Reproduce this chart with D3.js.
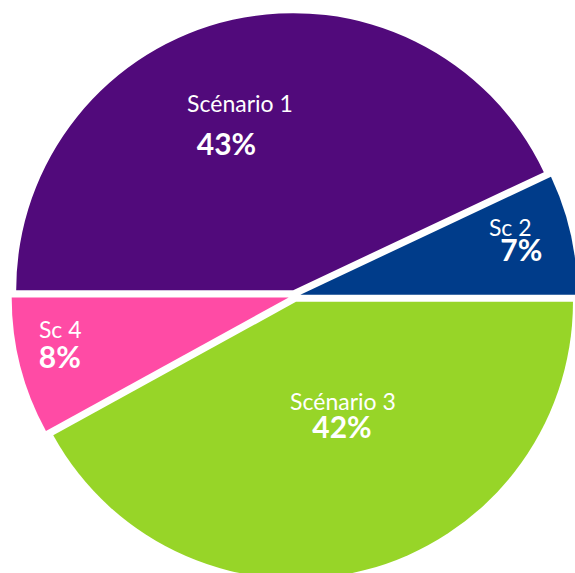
<!DOCTYPE html>
<html>
<head>
<meta charset="utf-8">
<script src="https://cdn.jsdelivr.net/npm/d3@7"></script>
<style>
  html, body { margin: 0; padding: 0; background: #fff; }
  svg { display: block; }
</style>
</head>
<body>
<svg width="575" height="573"></svg>
<script>
const width = 575, height = 573;
const svg = d3.select("svg");

// data
const labels = ["Scénario 1", "Sc 2", "Scénario 3", "Sc 4"];
const values = [43, 7, 42, 8];
const colors = ["#510A7B", "#003C8A", "#97D528", "#FF4BA5"];

// layout
const cx = 294.5, cy = 296, radius = 277, explode = 6;
// label placement: distance from centre, angle nudge (deg), offset of the % line
const labelRadius = [192, 224, 124, 238];
const labelNudge = [-3.9, -3, -8.6, 4.2];
const pctShift = [[-13.5, 43], [11, 25], [-1, 28], [-0.5, 30]];

const pie = d3.pie()
    .sort(null)
    .value(d => d)
    .startAngle(-Math.PI / 2)
    .endAngle(Math.PI * 1.5);

const arcs = pie(values);

const arc = d3.arc()
    .innerRadius(0)
    .outerRadius(radius);

const g = svg.append("g")
    .attr("transform", `translate(${cx},${cy})`);

const mid = d => (d.startAngle + d.endAngle) / 2;

// slices, pulled out slightly along their bisector
g.selectAll("path.slice")
    .data(arcs)
    .join("path")
    .attr("class", "slice")
    .attr("fill", (d, i) => colors[i])
    .attr("transform", d => {
        const a = mid(d);
        return `translate(${explode * Math.sin(a)},${-explode * Math.cos(a)})`;
    })
    .attr("d", arc);

// labels
const lab = g.selectAll("g.label")
    .data(arcs)
    .join("g")
    .attr("class", "label")
    .attr("transform", (d, i) => {
        const a = mid(d) + labelNudge[i] * Math.PI / 180;
        const r = labelRadius[i];
        return `translate(${r * Math.sin(a)},${-r * Math.cos(a)})`;
    });

lab.append("text")
    .attr("text-anchor", "middle")
    .style("font-family", "Lato, 'Open Sans', sans-serif")
    .style("font-size", "23px")
    .style("fill", "#fff")
    .text((d, i) => labels[i]);

lab.append("text")
    .attr("text-anchor", "middle")
    .attr("x", (d, i) => pctShift[i][0])
    .attr("y", (d, i) => pctShift[i][1])
    .style("font-family", "Lato, 'Open Sans', sans-serif")
    .style("font-weight", "bold")
    .style("font-size", "30px")
    .style("fill", "#fff")
    .text((d, i) => values[i] + "%");
</script>
</body>
</html>
